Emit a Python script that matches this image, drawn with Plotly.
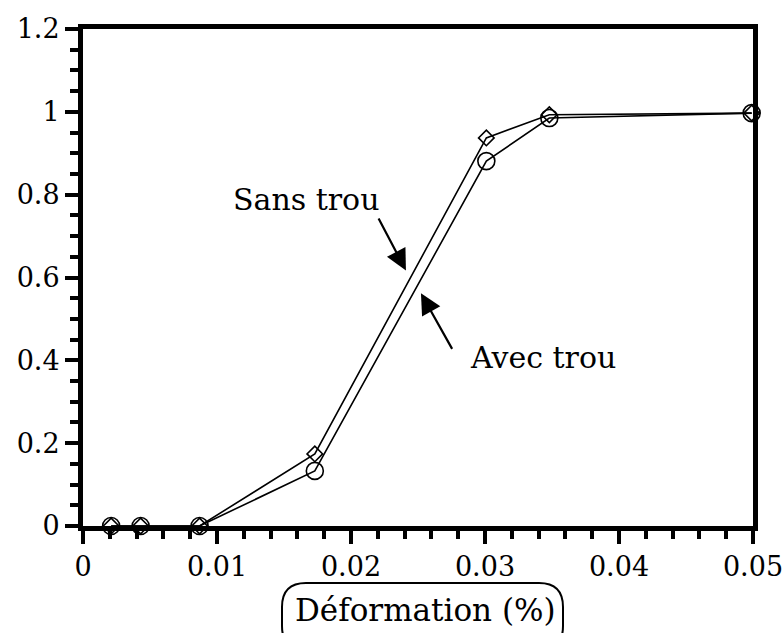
import plotly.graph_objects as go

# Strain values (%) and normalised response for the two specimens
deformation = [0.0021, 0.0043, 0.0087, 0.0173, 0.0301, 0.0348, 0.0499]
sans_trou = [0.0, 0.0, 0.0, 0.174, 0.937, 0.993, 0.997]
avec_trou = [0.0, 0.0, 0.0, 0.133, 0.881, 0.985, 0.997]

x_ticks = [0, 0.01, 0.02, 0.03, 0.04, 0.05]
x_tick_text = ["0", "0.01", "0.02", "0.03", "0.04", "0.05"]
y_ticks = [0, 0.2, 0.4, 0.6, 0.8, 1.0, 1.2]
y_tick_text = ["0", "0.2", "0.4", "0.6", "0.8", "1", "1.2"]

FONT = "DejaVu Serif"
W, H = 784, 633
L, R, T, B = 83, 31, 29, 107

fig = go.Figure()
fig.add_trace(go.Scatter(
    x=deformation, y=avec_trou, mode="lines+markers", name="Avec trou",
    line=dict(color="black", width=1.6),
    marker=dict(symbol="circle-open", size=17, color="black", line=dict(width=1.6)),
    cliponaxis=False,
))
fig.add_trace(go.Scatter(
    x=deformation, y=sans_trou, mode="lines+markers", name="Sans trou",
    line=dict(color="black", width=1.6),
    marker=dict(symbol="diamond-open", size=12, color="black", line=dict(width=1.6)),
    cliponaxis=False,
))

axis_common = dict(
    showgrid=False, zeroline=False, showline=True, linewidth=5, linecolor="black",
    mirror=True, ticks="outside", ticklen=13, tickwidth=4, tickcolor="black",
    tickfont=dict(family=FONT, size=27, color="black"), automargin=False,
)
fig.update_xaxes(range=[0, 0.05], tickvals=x_ticks, ticktext=x_tick_text,
                 minor=dict(dtick=0.002, ticks="outside", ticklen=8, tickwidth=4,
                            tickcolor="black"),
                 **axis_common)
fig.update_yaxes(range=[0, 1.2], tickvals=y_ticks, ticktext=y_tick_text,
                 minor=dict(dtick=0.05, ticks="outside", ticklen=8, tickwidth=4,
                            tickcolor="black"),
                 **axis_common)

# Labels with pointing arrows
fig.add_annotation(x=0.01664, y=0.789, text="Sans trou", showarrow=False,
                   xanchor="center", yanchor="middle",
                   font=dict(family=FONT, size=30, color="black"))
fig.add_annotation(x=0.0241, y=0.617, ax=0.0220, ay=0.746, axref="x", ayref="y",
                   text="", showarrow=True, arrowhead=2, arrowsize=1.9,
                   arrowwidth=2.2, arrowcolor="black")
fig.add_annotation(x=0.0343, y=0.407, text="Avec trou", showarrow=False,
                   xanchor="center", yanchor="middle",
                   font=dict(family=FONT, size=30, color="black"))
fig.add_annotation(x=0.02522, y=0.562, ax=0.02761, ay=0.424, axref="x", ayref="y",
                   text="", showarrow=True, arrowhead=2, arrowsize=1.9,
                   arrowwidth=2.2, arrowcolor="black")

# Axis title inside a rounded capsule
pw, ph = W - L - R, H - T - B


def px(xp):
    return (xp - L) / pw


def py(yp):
    return (H - B - yp) / ph


x0, x1, y0, y1, r = 282, 563, 583, 650, 24
path = (
    f"M {px(x0 + r)},{py(y0)} L {px(x1 - r)},{py(y0)} "
    f"Q {px(x1)},{py(y0)} {px(x1)},{py(y0 + r)} "
    f"L {px(x1)},{py(y1 - r)} Q {px(x1)},{py(y1)} {px(x1 - r)},{py(y1)} "
    f"L {px(x0 + r)},{py(y1)} Q {px(x0)},{py(y1)} {px(x0)},{py(y1 - r)} "
    f"L {px(x0)},{py(y0 + r)} Q {px(x0)},{py(y0)} {px(x0 + r)},{py(y0)} Z"
)
fig.add_shape(type="path", path=path, xref="paper", yref="paper",
              line=dict(color="black", width=2))
fig.add_annotation(x=px(425), y=py(610), xref="paper", yref="paper",
                   xanchor="center", yanchor="middle",
                   text="Déformation (%)", showarrow=False,
                   font=dict(family=FONT, size=31, color="black"))

fig.update_layout(
    width=W, height=H, margin=dict(l=L, r=R, t=T, b=B, autoexpand=False),
    paper_bgcolor="white", plot_bgcolor="white", showlegend=False,
)

fig.write_html("out.html")
